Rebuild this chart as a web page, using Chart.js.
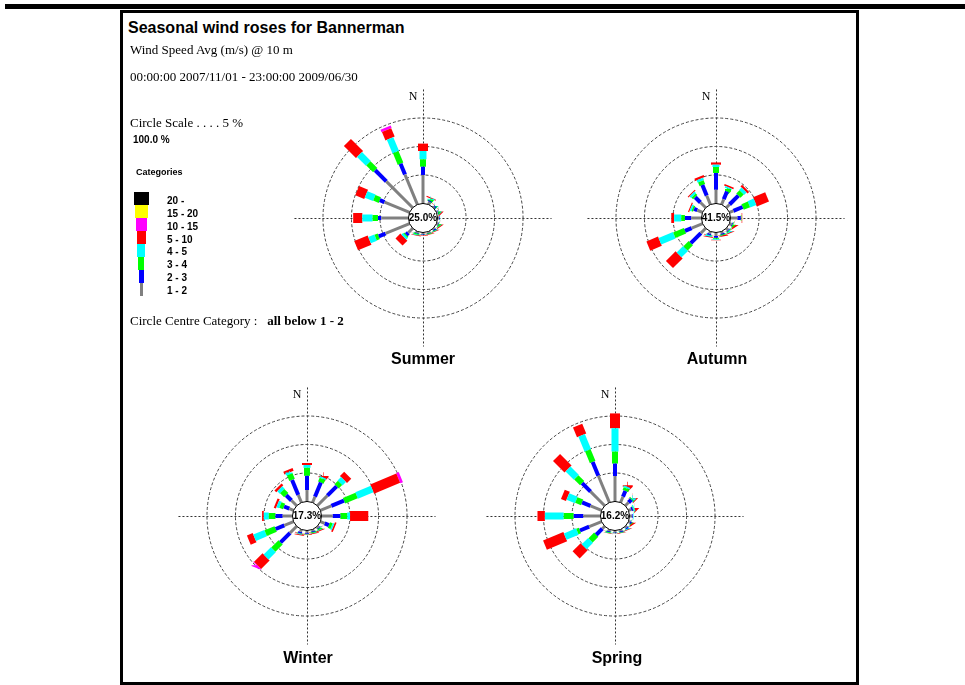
<!DOCTYPE html>
<html>
<head>
<meta charset="utf-8">
<script src="https://cdn.jsdelivr.net/npm/chart.js@4.4.1/dist/chart.umd.min.js"></script>
<style>
  html, body { margin: 0; padding: 0; background: #fff; }
  body { width: 965px; height: 685px; position: relative; overflow: hidden; }
  .rule { position: absolute; left: 5px; top: 4px; width: 960px; height: 5px; background: #000; }
  .frame { position: absolute; left: 120px; top: 10px; width: 739px; height: 675px; border: 3px solid #000; box-sizing: border-box; }
  .t { position: absolute; white-space: pre; color: #000; z-index: 2; }
  .serif { font-family: "Liberation Serif", "Times New Roman", serif; }
  .sans { font-family: "Liberation Sans", Arial, sans-serif; }
  canvas { position: absolute; z-index: 1; }
  .sw { position: absolute; z-index: 2; }
</style>
</head>
<body>
<div class="rule"></div>
<div class="frame"></div>

<div class="t sans" style="left:128px;top:20px;font-size:16px;line-height:16px;font-weight:bold;">Seasonal wind roses for Bannerman</div>
<div class="t serif" style="left:130px;top:43px;font-size:13px;line-height:13px;">Wind Speed Avg (m/s) @ 10 m</div>
<div class="t serif" style="left:130px;top:70px;font-size:13px;line-height:13px;">00:00:00 2007/11/01 - 23:00:00 2009/06/30</div>
<div class="t serif" style="left:130px;top:116px;font-size:13px;line-height:13px;">Circle Scale . . . . 5 %</div>
<div class="t sans" style="left:133px;top:135px;font-size:10px;line-height:10px;font-weight:bold;">100.0 %</div>
<div class="t sans" style="left:136px;top:168px;font-size:9px;line-height:9px;font-weight:bold;">Categories</div>
<div class="t serif" style="left:130px;top:314px;font-size:13px;line-height:13px;">Circle Centre Category :   <b>all below 1 - 2</b></div>

<div id="legend"></div>
<div id="roses"></div>

<script>
// Compass sectors, clockwise from north
const directions = ['N','NNE','NE','ENE','E','ESE','SE','SSE','S','SSW','SW','WSW','W','WNW','NW','NNW'];

// Wind speed categories (m/s)
const speedBins = ['1 - 2','2 - 3','3 - 4','4 - 5','5 - 10','10 - 15','15 - 20','20 -'];

const seasons = ['Summer','Autumn','Winter','Spring'];

// Share of time below 1 - 2 m/s (shown in the centre circle), %
const calmPct = [25.0, 41.5, 17.3, 16.2];

// Frequency (%) per sector, one column per speed category
const summerPct = [
  [5.00, 1.45, 1.30, 1.45, 1.30, 0.00, 0, 0], // N
  [0.50, 0.20, 0.20, 0.20, 0.20, 0.00, 0, 0], // NNE
  [0.20, 0.10, 0.05, 0.05, 0.05, 0.00, 0, 0], // NE
  [0.20, 0.10, 0.05, 0.05, 0.03, 0.00, 0, 0], // ENE
  [0.25, 0.10, 0.05, 0.05, 0.02, 0.00, 0, 0], // E
  [0.25, 0.10, 0.05, 0.03, 0.02, 0.00, 0, 0], // ESE
  [0.20, 0.08, 0.04, 0.03, 0.02, 0.00, 0, 0], // SE
  [0.20, 0.08, 0.05, 0.03, 0.04, 0.00, 0, 0], // SSE
  [0.25, 0.08, 0.04, 0.05, 0.10, 0.00, 0, 0], // S
  [0.20, 0.15, 0.10, 0.10, 0.05, 0.00, 0, 0], // SSW
  [1.10, 0.50, 0.20, 0.40, 1.20, 0.00, 0, 0], // SW
  [4.55, 1.30, 0.60, 1.15, 2.55, 0.00, 0, 0], // WSW
  [4.77, 0.58, 0.95, 1.80, 1.60, 0.00, 0, 0], // W
  [4.75, 0.90, 1.05, 1.55, 1.70, 0.00, 0, 0], // WNW
  [6.55, 2.75, 1.70, 2.20, 3.00, 0.00, 0, 0], // NW
  [5.70, 2.05, 2.20, 2.60, 1.60, 0.45, 0, 0]  // NNW
];

const autumnPct = [
  [2.40, 2.95, 1.05, 0.40, 0.40, 0.00, 0, 0], // N
  [1.00, 1.50, 0.45, 0.30, 0.30, 0.00, 0, 0], // NNE
  [0.80, 2.20, 0.80, 0.60, 0.40, 0.00, 0, 0], // NE
  [0.75, 1.75, 1.20, 1.15, 2.30, 0.00, 0, 0], // ENE
  [1.20, 0.60, 0.10, 0.05, 0.10, 0.00, 0, 0], // E
  [0.40, 0.15, 0.10, 0.05, 0.05, 0.00, 0, 0], // ESE
  [0.40, 0.15, 0.15, 0.05, 0.02, 0.00, 0, 0], // SE
  [0.35, 0.15, 0.10, 0.10, 0.05, 0.00, 0, 0], // SSE
  [0.60, 0.30, 0.20, 0.15, 0.10, 0.00, 0, 0], // S
  [0.40, 0.20, 0.10, 0.10, 0.10, 0.00, 0, 0], // SSW
  [1.20, 2.50, 1.30, 1.60, 2.40, 0.00, 0, 0], // SW
  [2.07, 1.27, 2.03, 2.73, 2.20, 0.00, 0, 0], // WSW
  [1.80, 1.10, 0.65, 1.25, 0.50, 0.00, 0, 0], // W
  [1.00, 0.60, 0.30, 0.30, 0.20, 0.00, 0, 0], // WNW
  [1.30, 1.30, 0.40, 0.40, 0.20, 0.00, 0, 0], // NW
  [1.70, 2.00, 0.70, 0.45, 0.40, 0.00, 0, 0]  // NNW
];

const winterPct = [
  [2.00, 2.50, 1.40, 0.50, 0.35, 0.00, 0, 0], // N
  [1.10, 2.70, 0.70, 0.30, 0.25, 0.00, 0, 0], // NNE
  [2.50, 2.30, 0.85, 0.85, 1.05, 0.00, 0, 0], // NE
  [2.07, 2.40, 2.40, 2.95, 4.95, 0.50, 0, 0], // ENE
  [1.95, 1.35, 1.20, 0.50, 3.20, 0.10, 0, 0], // E
  [0.80, 0.80, 0.50, 0.30, 0.30, 0.00, 0, 0], // ESE
  [0.30, 0.15, 0.10, 0.05, 0.05, 0.00, 0, 0], // SE
  [0.30, 0.10, 0.10, 0.05, 0.10, 0.00, 0, 0], // SSE
  [0.40, 0.15, 0.10, 0.05, 0.10, 0.00, 0, 0], // S
  [0.45, 0.20, 0.10, 0.05, 0.10, 0.00, 0, 0], // SSW
  [1.65, 2.35, 1.80, 1.80, 2.10, 0.15, 0, 0], // SW
  [1.75, 1.65, 1.90, 2.10, 1.10, 0.00, 0, 0], // WSW
  [1.72, 1.26, 1.17, 0.88, 0.30, 0.00, 0, 0], // W
  [0.80, 1.00, 0.70, 0.50, 0.40, 0.00, 0, 0], // WNW
  [1.30, 1.30, 1.00, 0.60, 0.45, 0.00, 0, 0], // NW
  [1.45, 2.85, 1.05, 0.35, 0.50, 0.00, 0, 0]  // NNW
];

const springPct = [
  [4.45, 2.20, 2.10, 4.10, 2.60, 0.00, 0, 0], // N
  [1.10, 1.10, 0.50, 0.30, 0.30, 0.00, 0, 0], // NNE
  [0.80, 0.70, 0.20, 0.15, 0.05, 0.00, 0, 0], // NE
  [0.50, 0.30, 0.10, 0.20, 0.02, 0.00, 0, 0], // ENE
  [0.40, 0.15, 0.05, 0.10, 0.02, 0.00, 0, 0], // E
  [0.30, 0.10, 0.05, 0.05, 0.02, 0.00, 0, 0], // ESE
  [0.30, 0.10, 0.05, 0.03, 0.02, 0.00, 0, 0], // SE
  [0.30, 0.10, 0.05, 0.03, 0.02, 0.00, 0, 0], // SSE
  [0.30, 0.10, 0.05, 0.03, 0.02, 0.00, 0, 0], // S
  [0.30, 0.10, 0.10, 0.03, 0.02, 0.00, 0, 0], // SSW
  [0.60, 1.50, 1.40, 1.60, 2.00, 0.00, 0, 0], // SW
  [2.35, 1.75, 0.50, 2.30, 3.85, 0.00, 0, 0], // WSW
  [3.00, 1.70, 1.75, 3.30, 1.30, 0.00, 0, 0], // W
  [2.10, 1.60, 1.10, 1.60, 0.95, 0.00, 0, 0], // WNW
  [3.50, 2.10, 1.45, 2.05, 2.85, 0.00, 0, 0], // NW
  [5.10, 2.60, 2.20, 2.85, 1.85, 0.00, 0, 0]  // NNW
];

// Circle scale: a dashed ring every 5 %
const ringPct = [5, 10, 15];

// ---- styling / layout ----
const binColors = ['#808080','#0000ff','#00ff00','#00ffff','#ff0000','#ff00ff','#ffff00','#000000'];
const binWidths = [3, 4, 6, 7, 10, 11, 13, 15];
const legendWidths = [3, 5, 6, 8, 9, 11, 13, 15];
const roseCenters = [[423, 218], [716, 218], [307, 516], [615, 516]];
const seasonLabelX = [423, 717, 308, 617];
const seasonLabelTop = [351, 351, 650, 650];
const PX_PER_PCT = 5.7;      // radial pixels for 1 %
const CALM_R = 2.55;         // centre circle radius, in % units
const AXIS_PCT = 20;         // compass lines reach this far past the centre circle
const SIZE = 270;            // canvas side
const HALF = SIZE / 2 / PX_PER_PCT;

// ---- legend ----
const legend = document.getElementById('legend');
for (let k = speedBins.length - 1, row = 0; k >= 0; k--, row++) {
  const w = legendWidths[k];
  const sw = document.createElement('div');
  sw.className = 'sw';
  sw.style.cssText = `left:${141 - w / 2}px;top:${192 + row * 13}px;width:${w}px;height:13px;background:${binColors[k]};`;
  legend.appendChild(sw);
  const lb = document.createElement('div');
  lb.className = 't sans';
  lb.style.cssText = `left:167px;top:${196 + row * 12.85}px;font-size:10px;line-height:10px;font-weight:bold;`;
  lb.textContent = speedBins[k];
  legend.appendChild(lb);
}

// ---- rose drawing ----
// each speed band of a sector is one straight, square-ended stroke
function sectorDatasets(rows) {
  const sets = [];
  rows.forEach((row, i) => {
    const a = i * 22.5 * Math.PI / 180;
    const sx = Math.sin(a), sy = Math.cos(a);
    let r = CALM_R;
    row.forEach((v, b) => {
      if (v <= 0) return;
      const r2 = r + v;
      sets.push({
        label: directions[i] + ' ' + speedBins[b],
        data: [{ x: r * sx, y: r * sy }, { x: r2 * sx, y: r2 * sy }],
        showLine: true,
        borderColor: binColors[b],
        backgroundColor: binColors[b],
        borderWidth: binWidths[b],
        borderCapStyle: 'butt',
        borderJoinStyle: 'bevel',
        pointRadius: 0,
        pointHoverRadius: 0,
        fill: false,
        tension: 0,
        clip: false
      });
      r = r2;
    });
  });
  return sets;
}

const roseFrame = {
  id: 'roseFrame',
  beforeDatasetsDraw(chart) {
    const { ctx, scales: { x, y } } = chart;
    const cx = x.getPixelForValue(0), cy = y.getPixelForValue(0);
    ctx.save();
    ctx.lineWidth = 1;
    ctx.strokeStyle = '#333';
    ctx.setLineDash([2, 2]);
    const ext = CALM_R + AXIS_PCT;
    ctx.beginPath();
    ctx.moveTo(x.getPixelForValue(-ext), cy + 0.5);
    ctx.lineTo(x.getPixelForValue(ext), cy + 0.5);
    ctx.moveTo(cx + 0.5, y.getPixelForValue(ext));
    ctx.lineTo(cx + 0.5, y.getPixelForValue(-ext));
    ctx.stroke();
    ctx.setLineDash([3, 2]);
    ctx.strokeStyle = '#444';
    ringPct.forEach(p => {
      const rp = x.getPixelForValue(CALM_R + p) - cx;
      ctx.beginPath();
      ctx.arc(cx, cy, rp, 0, Math.PI * 2);
      ctx.stroke();
    });
    ctx.restore();
  },
  afterDatasetsDraw(chart) {
    const { ctx, scales: { x, y } } = chart;
    const cx = x.getPixelForValue(0), cy = y.getPixelForValue(0);
    const rp = x.getPixelForValue(CALM_R) - cx;
    ctx.save();
    ctx.beginPath();
    ctx.arc(cx, cy, rp, 0, Math.PI * 2);
    ctx.fillStyle = '#fff';
    ctx.fill();
    ctx.lineWidth = 1;
    ctx.strokeStyle = '#000';
    ctx.stroke();
    ctx.restore();
  }
};

const seasonRows = [summerPct, autumnPct, winterPct, springPct];
const holder = document.getElementById('roses');

seasons.forEach((name, s) => {
  const [cx, cy] = roseCenters[s];
  const cv = document.createElement('canvas');
  cv.width = SIZE; cv.height = SIZE;
  cv.style.left = (cx - SIZE / 2) + 'px';
  cv.style.top = (cy - SIZE / 2) + 'px';
  cv.style.width = SIZE + 'px'; cv.style.height = SIZE + 'px';
  holder.appendChild(cv);

  new Chart(cv, {
    type: 'scatter',
    data: { datasets: sectorDatasets(seasonRows[s]) },
    options: {
      responsive: false,
      animation: false,
      events: [],
      layout: { padding: 0 },
      scales: {
        x: { type: 'linear', min: -HALF, max: HALF, display: false },
        y: { type: 'linear', min: -HALF, max: HALF, display: false }
      },
      plugins: { legend: { display: false }, tooltip: { enabled: false } }
    },
    plugins: [roseFrame]
  });

  const pct = document.createElement('div');
  pct.className = 't sans';
  pct.style.cssText = `left:${cx - 25}px;top:${cy - 6}px;width:50px;text-align:center;font-size:10px;line-height:12px;font-weight:bold;`;
  pct.textContent = calmPct[s].toFixed(1) + '%';
  holder.appendChild(pct);

  const n = document.createElement('div');
  n.className = 't serif';
  n.style.cssText = `left:${cx - 16}px;top:${cy - 128}px;width:12px;text-align:center;font-size:12px;line-height:12px;`;
  n.textContent = 'N';
  holder.appendChild(n);

  const lab = document.createElement('div');
  lab.className = 't sans';
  lab.style.cssText = `left:${seasonLabelX[s] - 60}px;top:${seasonLabelTop[s]}px;width:120px;text-align:center;font-size:16px;line-height:16px;font-weight:bold;`;
  lab.textContent = name;
  holder.appendChild(lab);
});
</script>
</body>
</html>
